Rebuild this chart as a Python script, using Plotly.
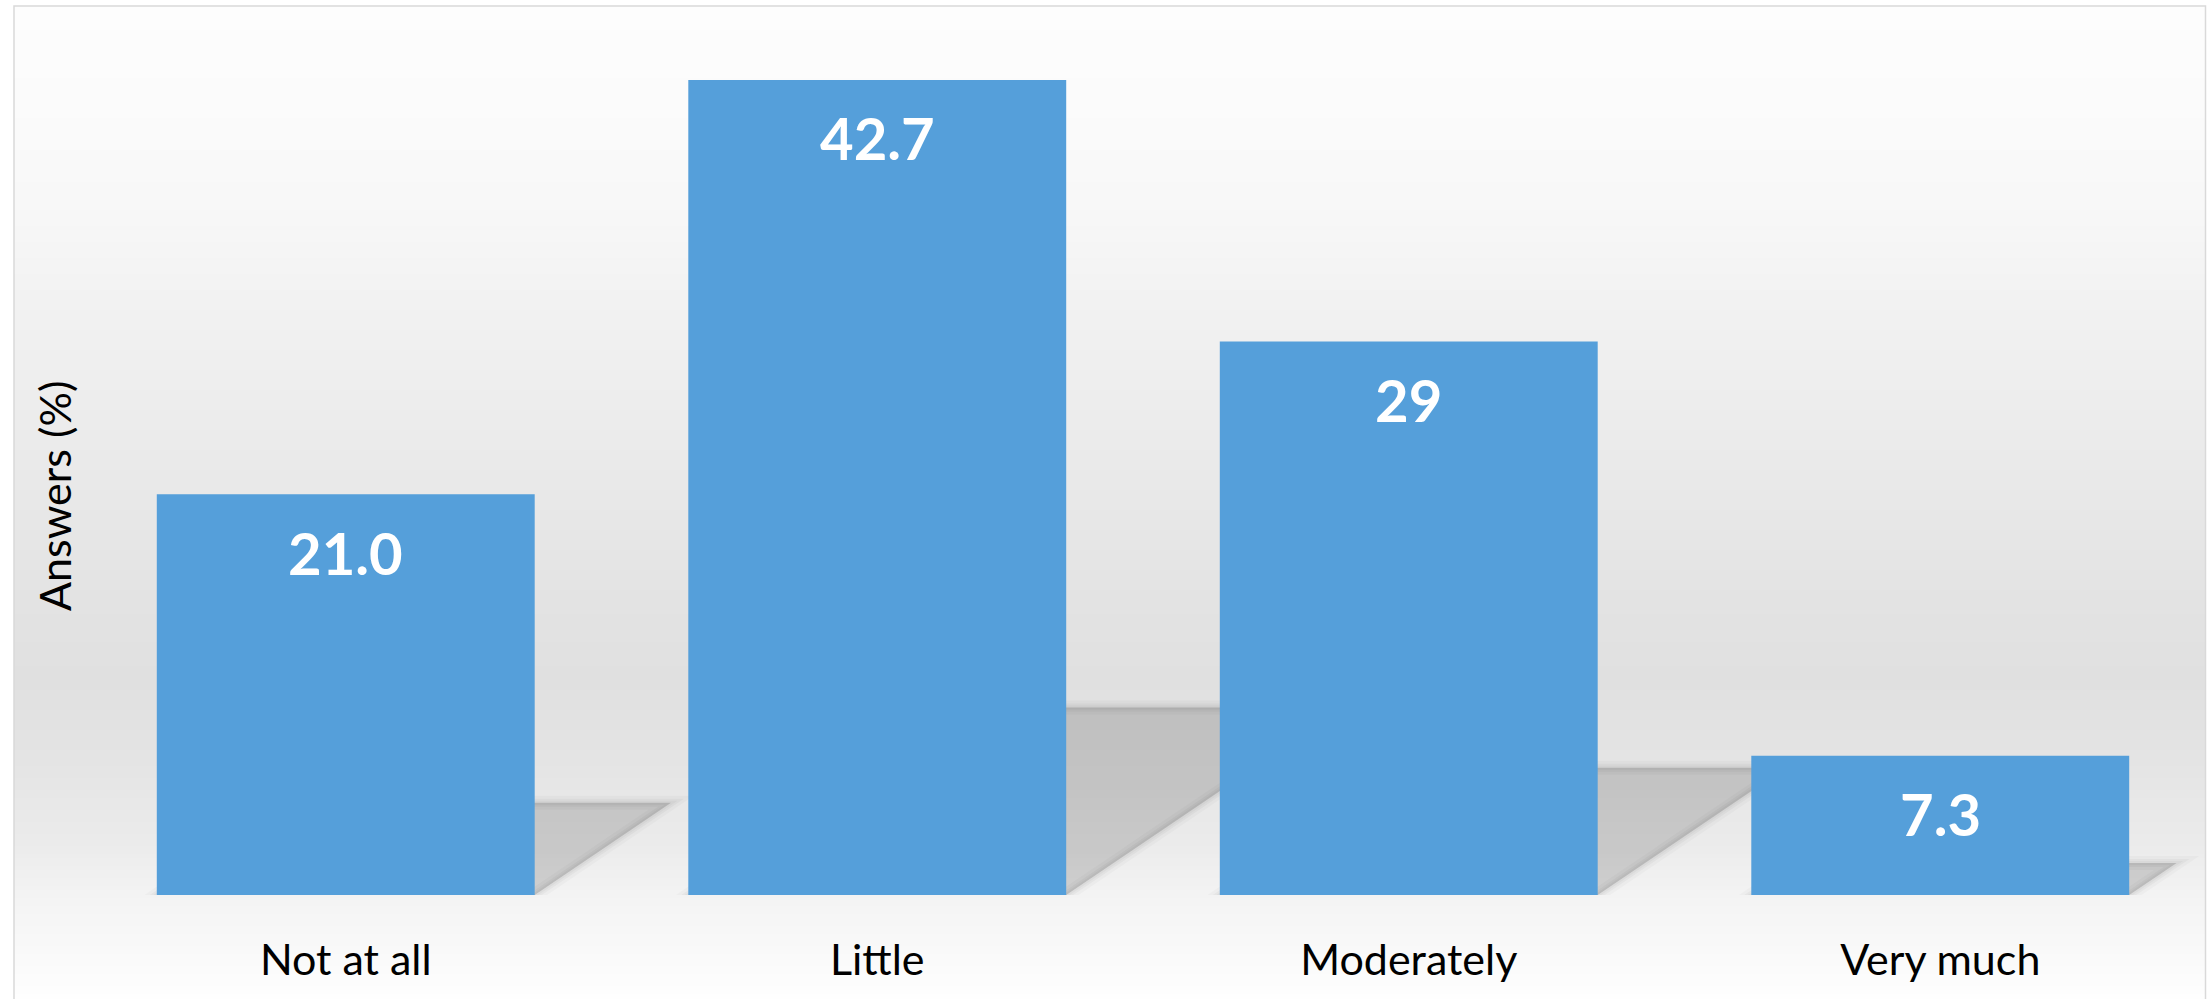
import plotly.graph_objects as go
import numpy as np

# ---- data ----
categories = ["Not at all", "Little", "Moderately", "Very much"]
answers_pct = [21.0, 42.7, 29, 7.3]
value_labels = ["21.0", "42.7", "29", "7.3"]
y_title = "Answers (%)"

# ---- layout constants ----
W, H = 2211, 999
ML, MR, MT, MB = 80, 5, 36, 104
PW, PH = W - ML - MR, H - MT - MB
YMAX = 45
BARGAP = 0.289
FONT = "Lato, Carlito, Calibri, sans-serif"


def pxx(px):
    return (px - ML) / PW


def pxy(py):
    return (H - MB - py) / PH


shapes = []

# background gradient (chart area inside border)
bg_y = [6, 100, 200, 300, 400, 500, 600, 680, 760, 850, 900, 999]
bg_v = [253, 251, 248, 242, 237, 232, 227, 224, 228, 236, 244, 254]
step = 4
for y0 in range(6, 999, step):
    y1 = min(y0 + step, 999)
    g = int(round(np.interp((y0 + y1) / 2, bg_y, bg_v)))
    shapes.append(dict(type="rect", xref="paper", yref="paper",
                       x0=pxx(14), x1=pxx(2206), y0=pxy(y1 + 0.5), y1=pxy(y0),
                       fillcolor=f"rgb({g},{g},{g})", line=dict(width=0),
                       layer="below"))

# border
shapes.append(dict(type="rect", xref="paper", yref="paper",
                   x0=pxx(14), x1=pxx(2205.5), y0=pxy(1010), y1=pxy(6),
                   fillcolor="rgba(0,0,0,0)", line=dict(color="#d9d9d9", width=1.5),
                   layer="below"))

# cast shadows (derived from bar values)
hw = (1 - BARGAP) / 2
px_per_cat = PW / len(categories)
px_per_unit = PH / YMAX
for i, v in enumerate(answers_pct):
    h = 0.23 * v
    s = (0.34 * v * px_per_unit) / px_per_cat
    path = (f"M {i - hw} 0 L {i + hw} 0 L {i + hw + s} {h} "
            f"L {i - hw + s} {h} Z")
    for lw, a_fill, a_line in [(14, 0.0, 0.025), (8, 0.0, 0.03), (4, 0.15, 0.03)]:
        shapes.append(dict(type="path", xref="x", yref="y", path=path,
                           fillcolor=f"rgba(0,0,0,{a_fill})",
                           line=dict(color=f"rgba(0,0,0,{a_line})", width=lw),
                           layer="below"))

fig = go.Figure()
fig.add_trace(go.Bar(
    x=categories, y=answers_pct,
    marker=dict(color="#559fda", line=dict(width=0)),
    hovertemplate="%{x}: %{y}<extra></extra>",
))

annotations = []
for c, v, t in zip(categories, answers_pct, value_labels):
    annotations.append(dict(x=c, y=v, xref="x", yref="y", text=t, showarrow=False,
                            yanchor="middle", yshift=-58,
                            font=dict(family=FONT, size=58, color="white", weight="bold")))

annotations.append(dict(xref="paper", yref="paper", x=pxx(54), y=pxy(496),
                        text=y_title, textangle=-90, showarrow=False,
                        xanchor="center", yanchor="middle",
                        font=dict(family=FONT, size=43, color="#000000")))

fig.update_layout(
    width=W, height=H,
    margin=dict(l=ML, r=MR, t=MT, b=MB, pad=0),
    paper_bgcolor="white",
    plot_bgcolor="rgba(0,0,0,0)",
    bargap=BARGAP,
    showlegend=False,
    shapes=shapes,
    annotations=annotations,
    xaxis=dict(showgrid=False, zeroline=False, showline=False, ticks="",
               tickfont=dict(family=FONT, size=43, color="#000000"),
               ticklabelstandoff=36, fixedrange=True),
    yaxis=dict(range=[0, YMAX], showgrid=False, zeroline=False, showline=False,
               showticklabels=False, ticks="", fixedrange=True),
)

fig.write_html("out.html", config={"displayModeBar": False},
               post_script="document.body.style.margin='0';document.body.style.overflow='hidden';")
